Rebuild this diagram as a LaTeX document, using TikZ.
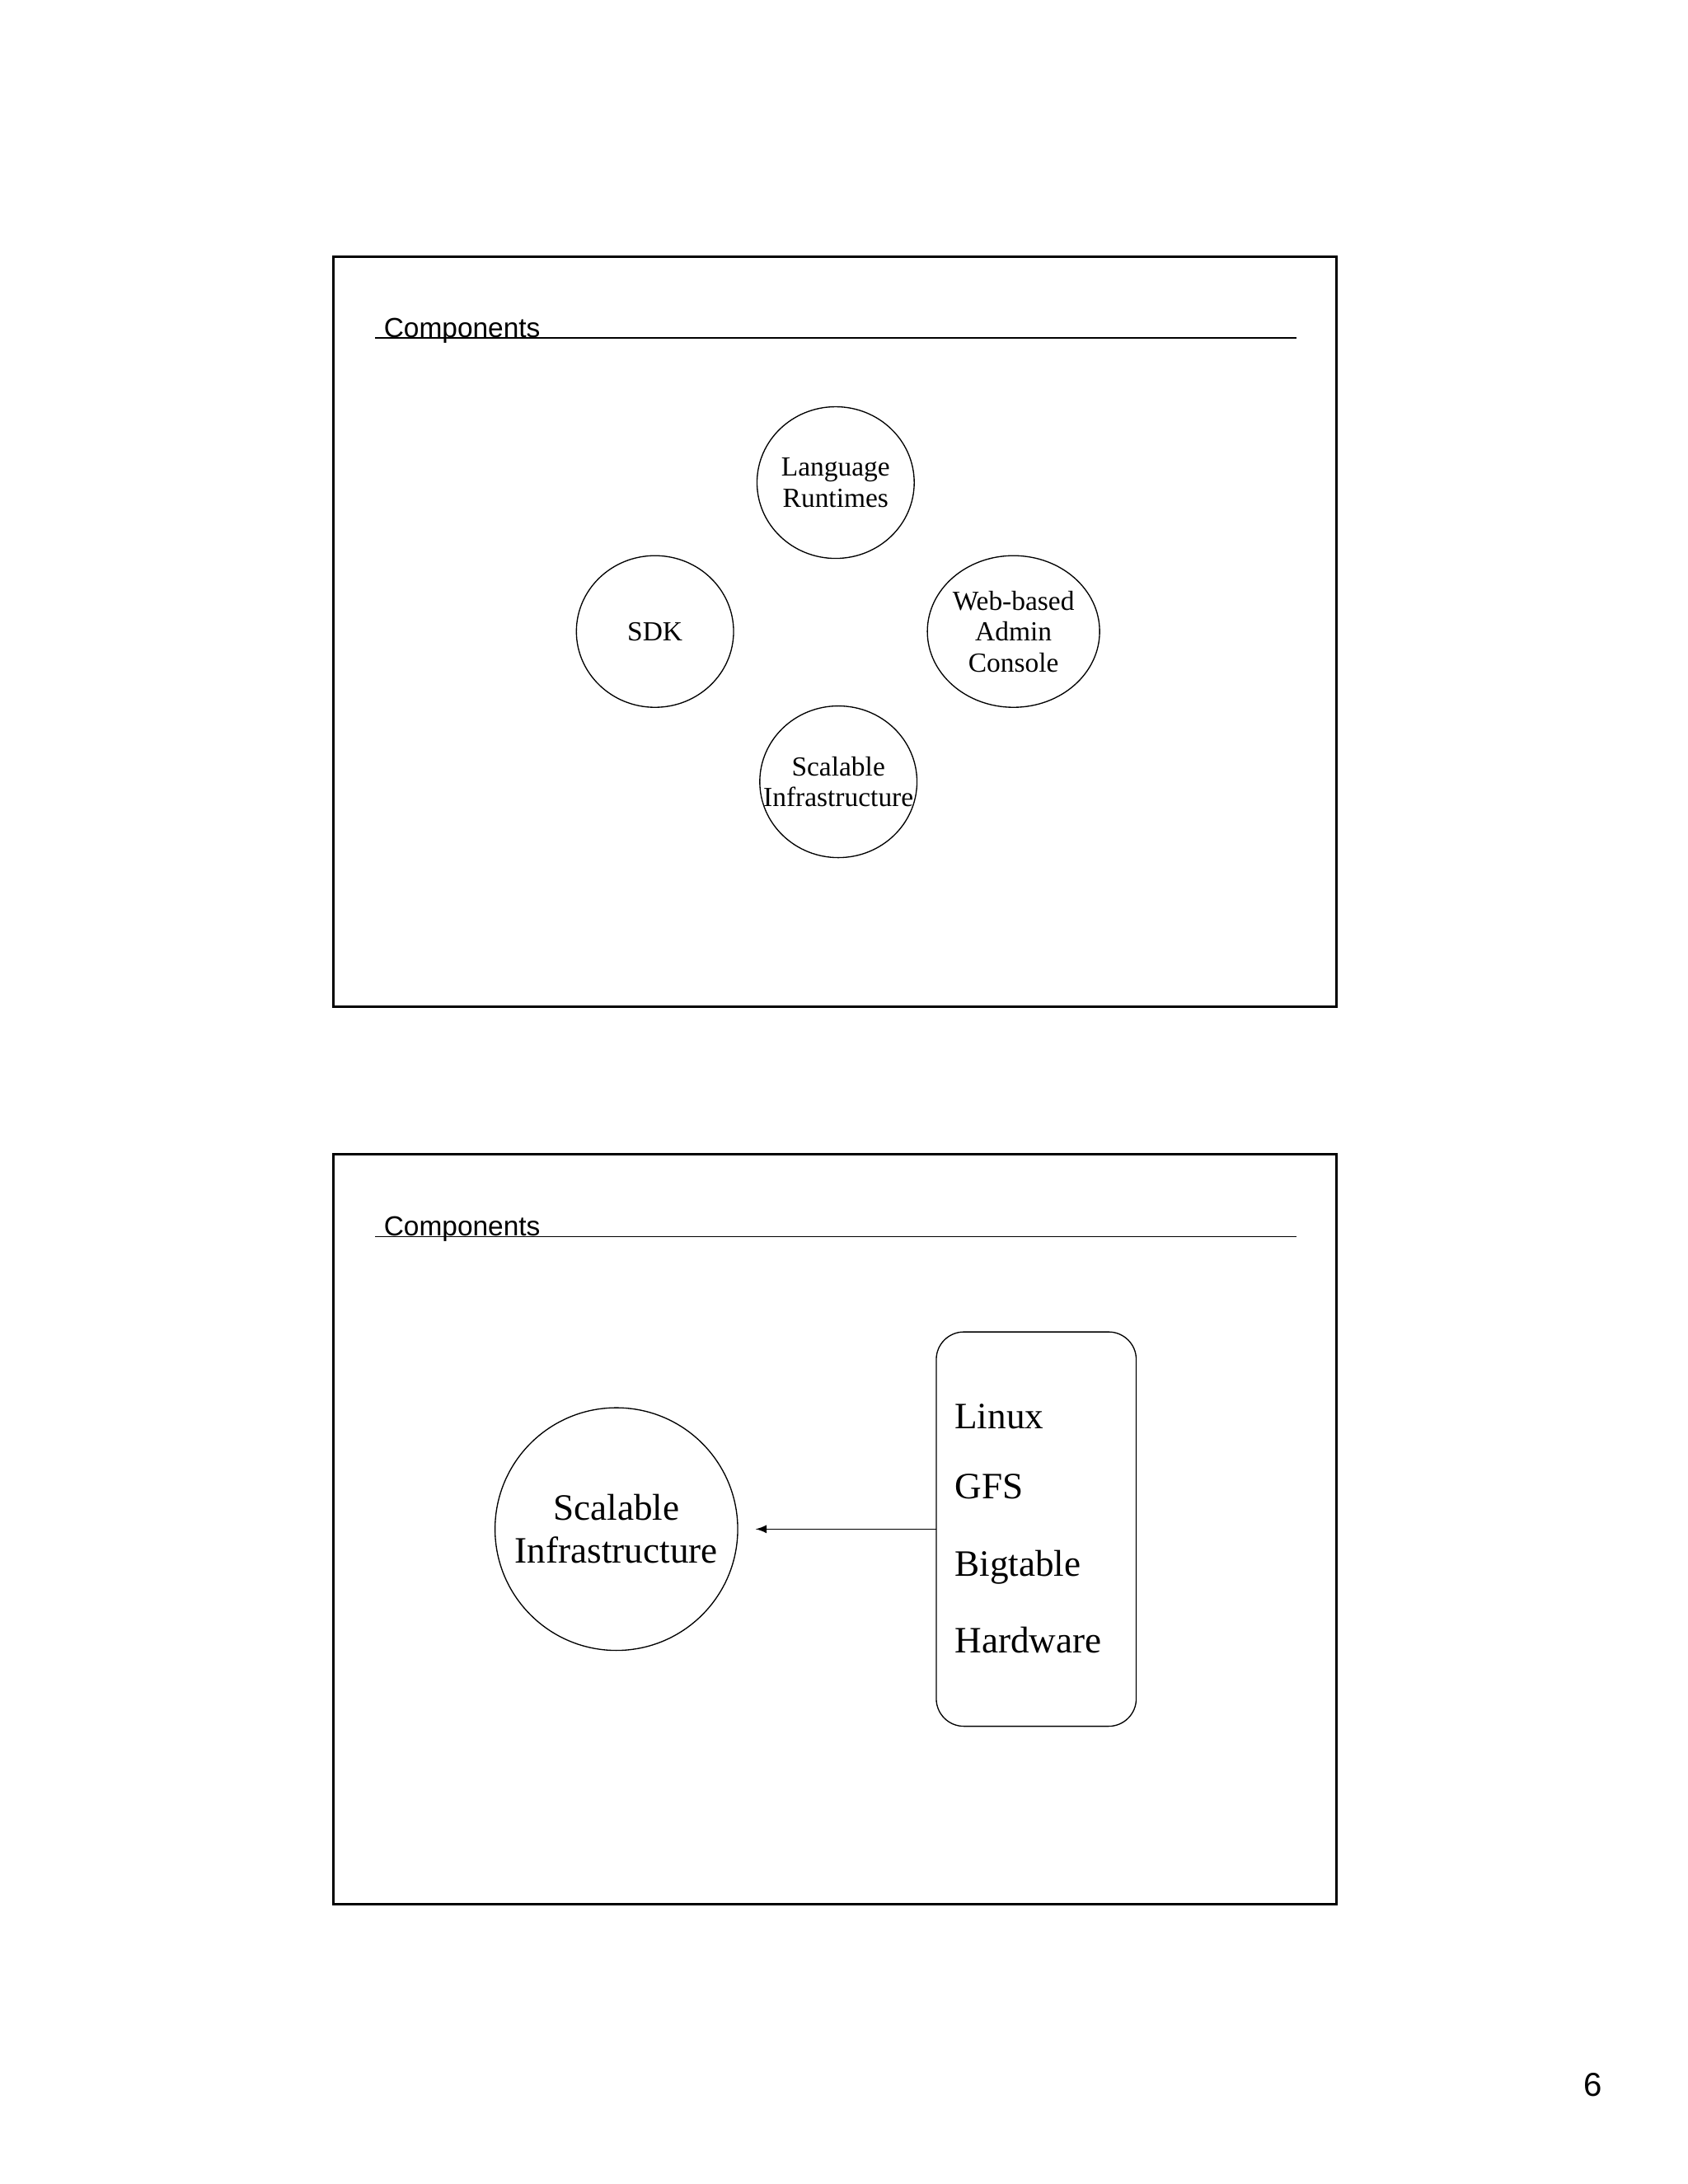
\documentclass[tikz,border=0pt]{standalone}
\usepackage{fontspec}
\usetikzlibrary{shapes.geometric}
\setmainfont{Liberation Serif}
\newfontfamily\sansf{Liberation Sans}
\begin{document}
\begin{tikzpicture}[x=0.5pt,y=-0.5pt,
  slide/.style={draw,line width=0.9pt},
  title/.style={anchor=base west,inner sep=0pt,font=\sansf\fontsize{10}{12}\selectfont},
  comp/.style={draw,ellipse,minimum width=57pt,minimum height=55pt,inner sep=0pt,align=center,font=\fontsize{10}{11.2}\selectfont,line width=0.4pt},
  big/.style={anchor=base west,inner sep=0pt,font=\fontsize{13.5}{15.5}\selectfont}]
\useasboundingbox (0,0) rectangle (1224,1584);
\fill[white] (0,0) rectangle (1224,1584);
% slide 1
\draw[slide] (242,186) rectangle (969,730);
\node[title] (t1) at (278,245) {Components};
\draw[line width=0.4pt] (272,245) -- (940,245);
\node[comp] (lr) at (606,350) {Language\\Runtimes};
\node[comp] (sdk) at (475,458) {SDK};
\node[comp] (web) at (735,458) {Web-based\\Admin\\Console};
\node[comp,inner xsep=-11pt] (si) at (608,567) {Scalable\\Infrastructure};
% slide 2
\draw[slide] (242,837) rectangle (969,1381);
\node[title] (t2) at (278,896) {Components};
\draw[line width=0.4pt] (272,897) -- (940,897);
\node[draw,circle,minimum size=88pt,inner sep=0pt,align=center,font=\fontsize{13.5}{15.5}\selectfont,line width=0.4pt] (sib) at (447,1109) {Scalable\\Infrastructure};
\draw[rounded corners=10pt,line width=0.4pt] (679,966) rectangle (824,1252);
\coordinate (boxw) at (679,1109);
\coordinate (tip) at (548,1109);
\draw[-latex,line width=0.4pt] (boxw) -- (tip);
\node[big] (l1) at (692,1036) {Linux};
\node[big] (l2) at (692,1087) {GFS};
\node[big] (l3) at (692,1143) {Bigtable};
\node[big] (l4) at (692,1199) {Hardware};
\node[font=\sansf\fontsize{12}{14}\selectfont] (pg) at (1155,1512) {6};
\end{tikzpicture}
\end{document}
